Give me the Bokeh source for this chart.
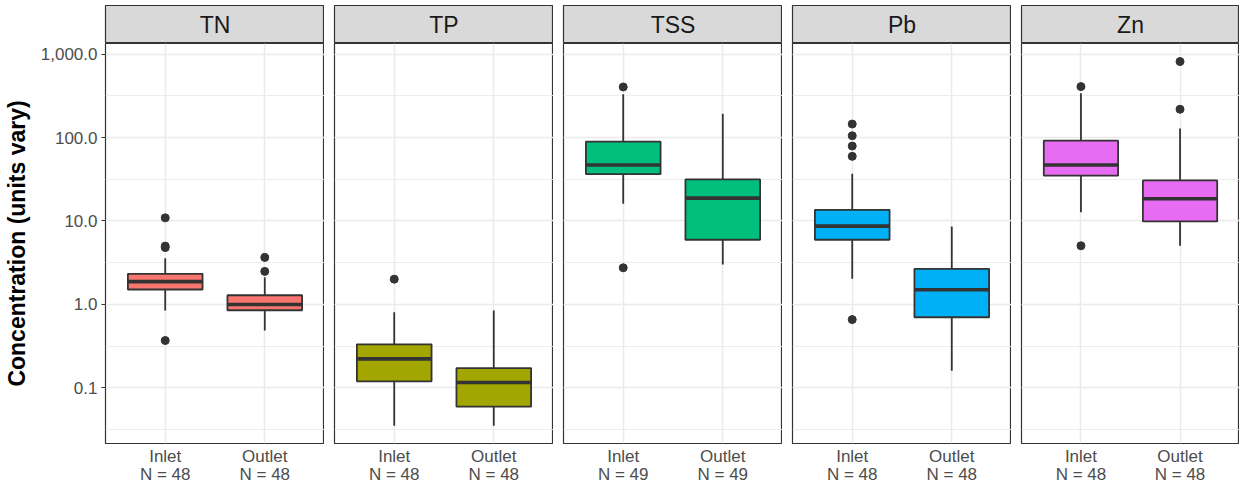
from bokeh.plotting import figure
from bokeh.models import (ColumnDataSource, FixedTicker, NumeralTickFormatter,
                          Range1d, FactorRange, Grid)
from bokeh.layouts import row, column
from bokeh.transform import dodge
from bokeh.core.properties import value
from bokeh.embed import file_html
from bokeh.resources import INLINE

# ---- data -------------------------------------------------------------
params = ["TN", "TP", "TSS", "Pb", "Zn"]
locations = ["Inlet", "Outlet"]
fill_colors = ["#F8766D", "#A3A500", "#00BF7D", "#00B0F6", "#E76BF3"]
n_inlet = [48, 48, 49, 48, 48]
n_outlet = [48, 48, 49, 48, 48]

# box statistics: lower whisker, Q1, median, Q3, upper whisker
inlet_low = [0.845, 0.0353, 16.1, 2.03, 12.7]
inlet_q1 = [1.51, 0.120, 36.5, 5.96, 34.9]
inlet_med = [1.88, 0.223, 46.8, 8.67, 46.8]
inlet_q3 = [2.33, 0.333, 89.2, 13.6, 91.7]
inlet_high = [3.58, 0.807, 330.0, 36.9, 340.0]
inlet_outliers = [[10.9, 5.0, 4.8, 0.37], [2.01], [403.0, 2.75],
                  [145.0, 105.0, 79.0, 59.5, 0.659], [407.0, 5.05]]

outlet_low = [0.486, 0.0353, 3.01, 0.161, 5.05]
outlet_q1 = [0.853, 0.0597, 5.96, 0.703, 9.88]
outlet_med = [1.0, 0.116, 18.8, 1.50, 18.5]
outlet_q3 = [1.29, 0.173, 31.5, 2.67, 30.6]
outlet_high = [2.12, 0.845, 193.0, 8.6, 128.0]
outlet_outliers = [[3.66, 2.49], [], [], [], [813.0, 218.0]]

y_major = [0.1, 1, 10, 100, 1000]
y_minor = [0.0316, 0.316, 3.16, 31.6, 316]

# ---- styling ----------------------------------------------------------
FONT = "Liberation Sans"
DARK = "#333333"
GRID = "#EBEBEB"
TEXT_GREY = "#4D4D4D"

y_range = Range1d(0.0216, 1337)
y_ticker = FixedTicker(ticks=y_major, minor_ticks=y_minor)

cols = []
for i, param in enumerate(params):
    first = i == 0
    last = i == len(params) - 1
    left = 105 if first else 10
    frame_w = 218 if last else 219
    w = left + frame_w
    counts = [n_inlet[i], n_outlet[i]]
    factors = [f"{loc}\nN = {n}" for loc, n in zip(locations, counts)]

    # facet strip
    strip = figure(width=w, height=43, x_range=(0, 1), y_range=(0, 1),
                   min_border_left=left, min_border_right=0,
                   min_border_top=5, min_border_bottom=0,
                   x_axis_location=None, y_axis_location=None,
                   toolbar_location=None, output_backend="svg")
    strip.background_fill_color = "#D9D9D9"
    strip.outline_line_color = DARK
    strip.outline_line_width = 1.2
    strip.grid.visible = False
    strip.text(x=[0.5], y=[0.5], text=[param], text_align="center",
               text_baseline="middle", text_font=value(FONT),
               text_font_size="23px", text_color="#1A1A1A")

    # panel
    xr = FactorRange(*factors, range_padding=0.1, range_padding_units="absolute")
    p = figure(width=w, height=445, x_range=xr, y_range=y_range,
               y_axis_type="log",
               min_border_left=left, min_border_right=0,
               min_border_top=0, min_border_bottom=45,
               y_axis_location="left" if first else None,
               toolbar_location=None, output_backend="svg")
    p.outline_line_color = DARK
    p.outline_line_width = 1.2

    p.xgrid.grid_line_color = GRID
    p.xgrid.grid_line_width = 1.5
    if first:
        ygrid = p.ygrid[0]
        ygrid.ticker = y_ticker
    else:
        ygrid = Grid(dimension=1, ticker=y_ticker)
        p.add_layout(ygrid, "center")
    ygrid.grid_line_color = GRID
    ygrid.grid_line_width = 1.5
    ygrid.minor_grid_line_color = GRID
    ygrid.minor_grid_line_width = 0.9

    xa = p.xaxis[0]
    xa.axis_line_color = None
    xa.major_tick_line_color = None
    xa.major_tick_out = 0
    xa.major_tick_in = 0
    xa.major_label_standoff = 3
    xa.major_label_text_font = FONT
    xa.major_label_text_font_size = "17px"
    xa.major_label_text_color = TEXT_GREY
    xa.major_label_text_line_height = 0.95

    if first:
        ya = p.yaxis[0]
        ya.ticker = y_ticker
        ya.formatter = NumeralTickFormatter(format="0,0.0")
        ya.axis_line_color = None
        ya.major_tick_out = 4
        ya.major_tick_in = 0
        ya.major_tick_line_color = DARK
        ya.major_tick_line_width = 1.2
        ya.minor_tick_line_color = None
        ya.major_label_standoff = 4
        ya.major_label_text_font = FONT
        ya.major_label_text_font_size = "17px"
        ya.major_label_text_color = TEXT_GREY
        ya.axis_label = "Concentration (units vary)"
        ya.axis_label_standoff = 8
        ya.axis_label_text_font = FONT
        ya.axis_label_text_font_style = "bold"
        ya.axis_label_text_font_size = "23px"
        ya.axis_label_text_color = "black"

    src = ColumnDataSource(dict(
        x=factors,
        low=[inlet_low[i], outlet_low[i]],
        q1=[inlet_q1[i], outlet_q1[i]],
        med=[inlet_med[i], outlet_med[i]],
        q3=[inlet_q3[i], outlet_q3[i]],
        high=[inlet_high[i], outlet_high[i]],
    ))
    p.segment(x0="x", y0="q3", x1="x", y1="high", source=src,
              line_color=DARK, line_width=1.8)
    p.segment(x0="x", y0="low", x1="x", y1="q1", source=src,
              line_color=DARK, line_width=1.8)
    p.vbar(x="x", width=0.75, bottom="q1", top="q3", source=src,
           fill_color=fill_colors[i], line_color=DARK, line_width=1.8)
    p.segment(x0=dodge("x", -0.375, range=xr), y0="med",
              x1=dodge("x", 0.375, range=xr), y1="med", source=src,
              line_color=DARK, line_width=3.6)

    ox = [factors[0]] * len(inlet_outliers[i]) + [factors[1]] * len(outlet_outliers[i])
    oy = inlet_outliers[i] + outlet_outliers[i]
    if oy:
        p.scatter(x=ox, y=oy, size=8, color=DARK)

    cols.append(column(strip, p, spacing=0))

layout = row(*cols, spacing=0)
open("out.html", "w").write(file_html(layout, INLINE))
